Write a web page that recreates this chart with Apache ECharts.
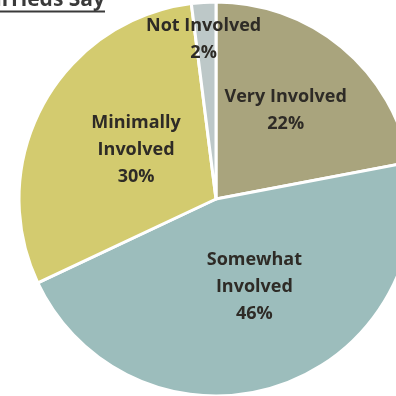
<!DOCTYPE html>
<html>
<head>
<meta charset="utf-8">
<script src="https://cdn.jsdelivr.net/npm/echarts@6/dist/echarts.min.js"></script>
<style>
  html, body { margin: 0; padding: 0; background: #ffffff; }
  #chart { width: 396px; height: 396px; }
</style>
</head>
<body>
<div id="chart"></div>
<script>
// Involvement shares, clockwise from 12 o'clock
const categories = ['Very Involved', 'Somewhat\nInvolved', 'Minimally\nInvolved', 'Not Involved'];
const shares = [22, 46, 30, 2];
const sliceColors = ['#A9A47D', '#9CBDBC', '#D3CB6F', '#BDC8C8'];
// Nudges for each slice label relative to its default inside position
const labelOffsets = [[5, -10], [7, -9], [9, 0], [-6, -58]];
const titleText = 'What Marrieds Say';

const chart = echarts.init(document.getElementById('chart'), null, { renderer: 'canvas' });

const data = categories.map((name, i) => ({
  name: name,
  value: shares[i],
  itemStyle: { color: sliceColors[i] },
  label: { offset: labelOffsets[i] }
}));

chart.setOption({
  animation: false,
  backgroundColor: '#ffffff',
  graphic: [
    {
      type: 'text',
      right: 291,
      top: -10,
      style: {
        text: titleText,
        font: 'bold 21px "Open Sans"',
        fill: '#3a3a3a'
      }
    },
    {
      type: 'rect',
      shape: { x: 0, y: 10.5, width: 105, height: 2 },
      style: { fill: '#3a3a3a' }
    }
  ],
  series: [{
    type: 'pie',
    center: [216, 199],
    radius: [0, 197],
    startAngle: 90,
    clockwise: true,
    avoidLabelOverlap: false,
    itemStyle: { borderColor: '#ffffff', borderWidth: 3 },
    label: {
      show: true,
      position: 'inside',
      formatter: p => p.name + '\n' + p.value + '%',
      fontFamily: '"Open Sans"',
      fontWeight: 'bold',
      fontSize: 18,
      lineHeight: 27,
      color: '#2e2b26',
      align: 'center'
    },
    labelLine: { show: false },
    emphasis: { disabled: true },
    data: data
  }]
});
</script>
</body>
</html>
